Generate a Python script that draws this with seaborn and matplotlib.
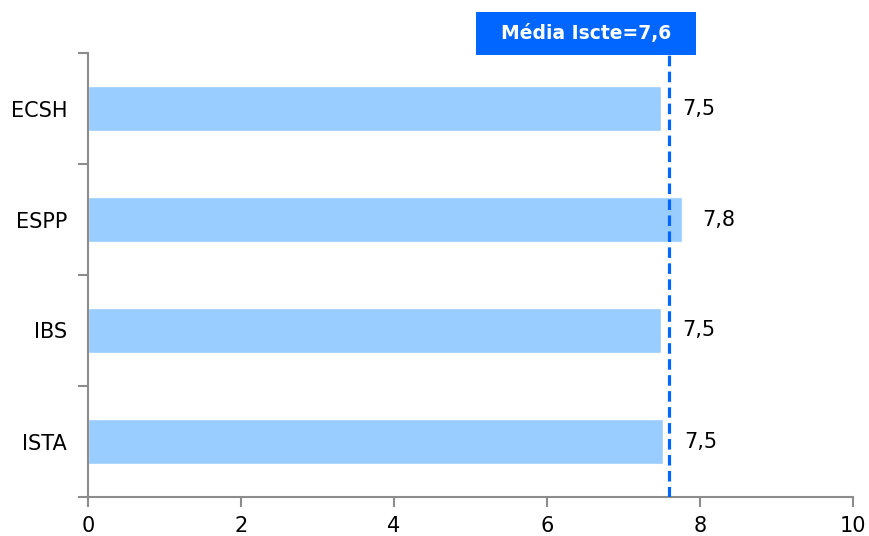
import matplotlib
matplotlib.use("Agg")
import matplotlib.pyplot as plt
import matplotlib.patches as mpatches
import pandas as pd
import seaborn as sns

# Data
schools = ["ECSH", "ESPP", "IBS", "ISTA"]
scores = [7.49, 7.76, 7.49, 7.52]
iscte_mean = 7.6
x_ticks = [0, 2, 4, 6, 8, 10]

BAR_COLOR = "#99CCFF"
LINE_COLOR = "#0066FF"
AXIS_COLOR = "#8C8C8C"


def main():
    sns.set_style("white")
    plt.rcParams["font.family"] = ["DejaVu Sans"]

    df = pd.DataFrame({"school": schools, "score": scores})

    fig = plt.figure(figsize=(8.7, 5.36), dpi=100)
    ax = fig.add_axes([88 / 870, 39 / 536, 765 / 870, 444 / 536])

    sns.barplot(data=df, x="score", y="school", orient="h", color=BAR_COLOR,
                width=0.4, saturation=1, ax=ax)

    # Value labels
    for i, v in enumerate(scores):
        ax.annotate(f"{v:.1f}".replace(".", ","), xy=(v, i),
                    xytext=(15, 0), textcoords="offset points",
                    va="center", ha="left", fontsize=15, color="black")

    # Mean line
    ax.axvline(iscte_mean, color=LINE_COLOR, lw=2.3, ls=(0, (3.3, 1.7)),
               ymax=0.995, zorder=5)

    # Axes styling
    ax.set_xlim(0, 10)
    ax.set_ylim(3.5, -0.5)
    ax.set_xticks(x_ticks)
    ax.set_yticks([-0.5, 0.5, 1.5, 2.5, 3.5])
    ax.set_yticklabels([])
    ax.set_yticks(range(len(schools)), minor=True)
    ax.set_yticklabels(schools, minor=True)
    ax.tick_params(axis="y", which="minor", length=0, pad=15, labelsize=15,
                   labelcolor="black")
    ax.tick_params(axis="y", which="major", length=7, width=1.5,
                   color=AXIS_COLOR, left=True)
    ax.tick_params(axis="x", length=7, width=1.5, color=AXIS_COLOR,
                   bottom=True, pad=7, labelsize=15, labelcolor="black")
    for side in ("top", "right"):
        ax.spines[side].set_visible(False)
    for side in ("left", "bottom"):
        ax.spines[side].set_color(AXIS_COLOR)
        ax.spines[side].set_linewidth(1.5)
    ax.set_xlabel("")
    ax.set_ylabel("")

    # Mean label box
    box = mpatches.Rectangle((476 / 870, 1 - 55 / 536), 220 / 870, 43 / 536,
                             transform=fig.transFigure, facecolor=LINE_COLOR,
                             edgecolor="none")
    fig.patches.append(box)
    fig.text(586 / 870, 1 - 34 / 536,
             "Média Iscte=" + f"{iscte_mean:.1f}".replace(".", ","),
             ha="center", va="center", color="white", fontsize=13.5,
             fontweight="bold")

    fig.savefig("out.png", dpi=100)


if __name__ == "__main__":
    main()
